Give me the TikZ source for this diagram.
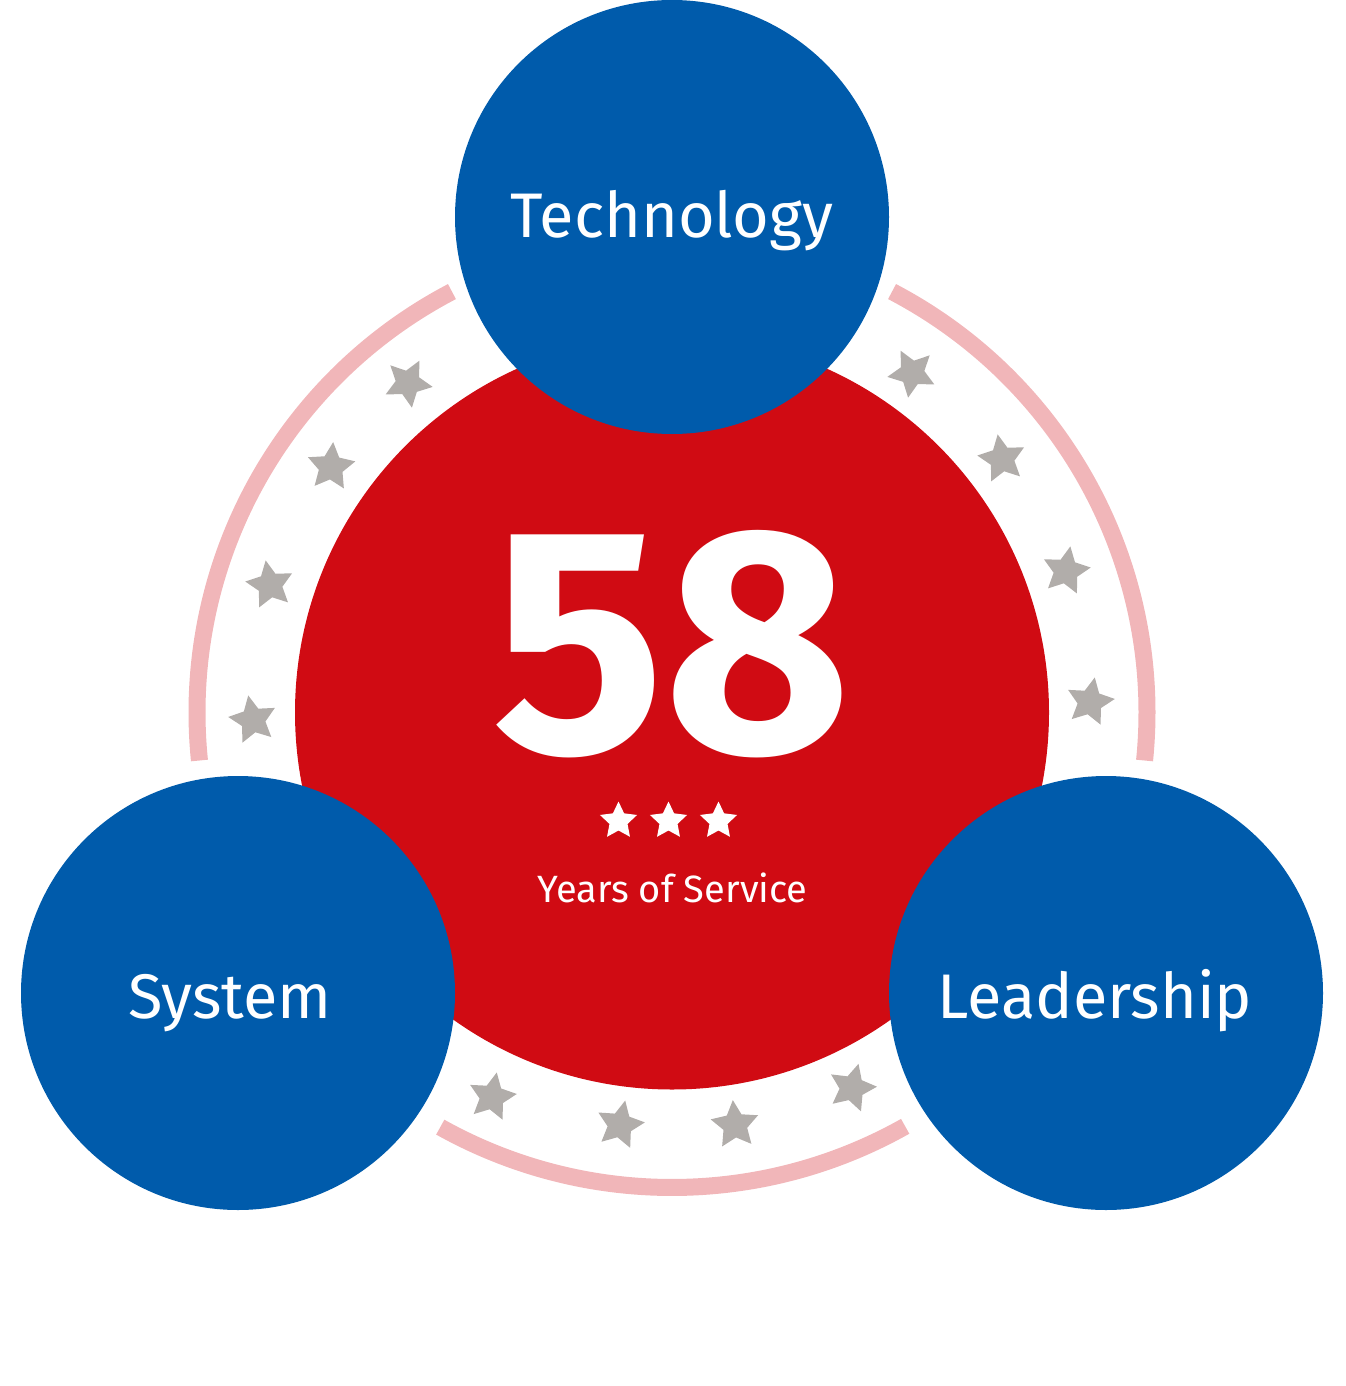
\documentclass[tikz,border=0pt]{standalone}
\usepackage{fontspec}
\setmainfont{Fira Sans}
\usetikzlibrary{calc}
\definecolor{cblue}{HTML}{005BAB}
\definecolor{cred}{HTML}{D00B13}
\definecolor{cpink}{HTML}{F1B6B9}
\definecolor{cgray}{HTML}{B1ADAA}
\begin{document}
\begin{tikzpicture}[x=1pt,y=1pt,
  ring/.style={draw=cpink, line width=17pt},
  hub/.style={circle, fill=cred, minimum size=754pt, inner sep=0pt},
  pillar/.style={circle, fill=cblue, minimum size=434pt, inner sep=0pt},
  pillartext/.style={text=white, font=\fontsize{63}{70}\selectfont, anchor=base, inner sep=0pt},
  pics/gstar/.style={code={\fill[cgray] (90:25) -- (126:12.5) -- (162:25) -- (198:12.5) -- (234:25) -- (270:12.5) -- (306:25) -- (342:12.5) -- (18:25) -- (54:12.5) -- cycle;}},
  pics/wstar/.style={code={\fill[white] (90:19.5) -- (126:9.5) -- (162:19.5) -- (198:9.5) -- (234:19.5) -- (270:9.5) -- (306:19.5) -- (342:9.5) -- (18:19.5) -- (54:9.5) -- cycle;}},
]
\useasboundingbox (0,0) rectangle (1345,-1386);
\coordinate (C) at (672,-712.5);
% pink ring segments
\draw[ring] ($(C)+(117.6:475)$) arc[start angle=117.6, end angle=185.8, radius=475];
\draw[ring] ($(C)+(-5.8:475)$) arc[start angle=-5.8, end angle=62.4, radius=475];
\draw[ring] ($(C)+(240.8:475)$) arc[start angle=240.8, end angle=299.4, radius=475];
% grey stars
\pic[rotate=-27] at (408,-383) {gstar};
\pic[rotate=-5] at (331,-467) {gstar};
\pic[rotate=10] at (270,-585) {gstar};
\pic[rotate=11] at (253,-720) {gstar};
\pic[rotate=27] at (912,-373) {gstar};
\pic[rotate=10] at (1002,-459) {gstar};
\pic[rotate=-10] at (1066,-571) {gstar};
\pic[rotate=-11] at (1090,-702) {gstar};
\pic[rotate=-11] at (492,-1097) {gstar};
\pic[rotate=-12] at (620,-1125) {gstar};
\pic[rotate=5] at (735,-1125) {gstar};
\pic[rotate=-15] at (852,-1088) {gstar};
% hub
\node[hub] (hub) at (C) {};
\node[text=white, font=\fontsize{322}{330}\selectfont\bfseries, anchor=base, inner sep=0pt] (num) at (672,-752) {58};
\pic at (618.5,-821) {wstar};
\pic at (668.5,-821) {wstar};
\pic at (718.5,-821) {wstar};
\node[text=white, font=\fontsize{38}{42}\selectfont, anchor=base, inner sep=0pt] (yos) at (672.5,-902) {Years of Service};
% pillars
\node[pillar] (tech) at (672,-217) {};
\node[pillar] (sys) at (238,-993) {};
\node[pillar] (lead) at (1106,-993) {};
\node[pillartext] (techlabel) at (672,-237) {Technology};
\node[pillartext] (syslabel) at (230,-1018) {System};
\node[pillartext] (leadlabel) at (1095,-1018) {Leadership};
\end{tikzpicture}
\end{document}
